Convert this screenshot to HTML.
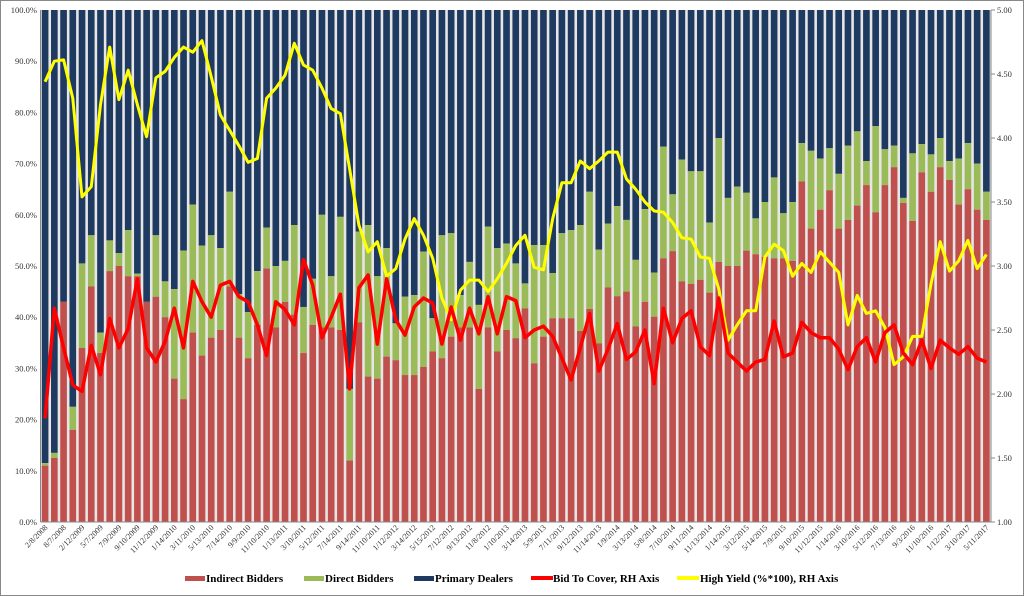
<!DOCTYPE html>
<html><head><meta charset="utf-8"><style>
html,body{margin:0;padding:0;background:#fff;width:1024px;height:596px;overflow:hidden}
svg{display:block;font-family:"Liberation Serif",serif}
</style></head><body>
<svg id="chart" width="1024" height="596" viewBox="0 0 1024 596">
<rect x="0.5" y="0.5" width="1023" height="595" fill="#fff" stroke="#888"/>
<g id="bars"></g>
<g id="lines"></g>
<g id="axes"></g>
<g id="legend" font-weight="bold" font-size="11" fill="#000">
  <rect x="185" y="576" width="20" height="5" fill="#c0504d"/>
  <text x="206" y="582">Indirect Bidders</text>
  <rect x="304" y="576" width="20" height="5" fill="#9bbb59"/>
  <text x="325" y="582">Direct Bidders</text>
  <rect x="414" y="576" width="20" height="5" fill="#1f3a60"/>
  <text x="435" y="582">Primary Dealers</text>
  <rect x="531" y="576" width="22" height="4" fill="#ff0000"/>
  <text x="553" y="582">Bid To Cover, RH Axis</text>
  <rect x="677" y="576" width="22" height="4" fill="#ffff00"/>
  <text x="700" y="582">High Yield (%*100), RH Axis</text>
</g>
</svg>
<script>
const indirect = [11,12.5,43,18,34,46,33,49,50,48,48,43,44,40,28,24,37,32.5,36,37.5,46,36,32,38.5,49.5,
38,43,40.5,33,38.5,38,38,37.5,12,
39,28.4,28,32.3,31.6,28.7,28.7,30.3,33.3,32,36.2,38,38,26,38,33.3,37.5,
35.9,41.7,31,36.2,39.8,39.8,39.8,37.3,41.6,34.9,45.8,44.1,45,38.2,43,40.1,51.5,52.9,
47,46.5,47.3,44.8,50.8,50,50,53,52.3,51.8,51.5,51.5,51,66.5,57.3,61,64.8,57.3,59,61.8,65.8,60.5,65.8,69.3,62.3,58.8,68.3,64.5,69.3,66.8,62,65,61,59];
const indirectPlusDirect = [11.5,13.5,43,22.5,50.5,56,37,55,52.5,57,48.5,43,56,47,45.5,53,62,54,56,53.5,64.5,44.5,41,49,57.5,
50,51,58,42,47.5,60,48,59.6,26,
56.7,58,48,53.5,38.8,44,44.3,52.8,39.8,56,56.4,44.3,50.8,42.4,57.7,53.5,54.4,
50.5,46.6,54.1,54.1,48.6,56.4,57,58,64.5,53.2,58.3,61.7,59,51.2,61.1,48.7,73.3,64,
70.8,68.5,68.5,58.5,75,63.3,65.5,64.3,59.3,62.5,67.3,60.3,62.5,74,72.5,71,73,68,73.5,76.3,70.5,77.3,72.8,73.5,63.3,72,73.8,71.8,75,70.5,71,74,70,64.5];
const bidToCover = [1.81,2.67,2.36,2.07,2.02,2.38,2.15,2.59,2.36,2.51,2.90,2.36,2.25,2.41,2.67,2.36,2.88,2.72,2.60,2.85,2.88,2.76,2.72,2.54,2.30,
2.72,2.66,2.54,3.05,2.85,2.44,2.60,2.78,2.04,2.83,2.93,2.39,2.90,2.58,2.46,2.68,2.75,2.71,2.39,2.68,2.42,2.67,2.47,2.76,2.47,2.76,
2.73,2.44,2.50,2.53,2.45,2.28,2.11,2.36,2.63,2.18,2.35,2.55,2.27,2.33,2.50,2.08,2.67,2.40,2.59,2.65,2.37,2.30,2.75,2.32,2.25,2.18,
2.25,2.27,2.57,2.29,2.32,2.56,2.48,2.44,2.44,2.35,2.19,2.37,2.44,2.25,2.48,2.54,2.32,2.23,2.42,2.20,2.42,2.36,2.31,2.37,2.28,2.25];
const highYield = [4.44,4.60,4.61,4.31,3.54,3.62,4.26,4.71,4.30,4.53,4.26,4.01,4.47,4.52,4.63,4.71,4.67,4.76,4.48,4.18,4.06,3.94,3.81,3.84,4.31,4.39,
4.49,4.74,4.57,4.53,4.39,4.23,4.19,3.76,3.32,3.11,3.19,2.92,2.98,3.21,3.37,3.24,3.06,2.75,2.58,2.81,2.89,2.89,2.80,2.90,3.02,
3.16,3.24,2.99,2.97,3.37,3.65,3.65,3.82,3.76,3.82,3.89,3.89,3.68,3.60,3.50,3.43,3.42,3.34,3.22,3.21,3.07,3.06,2.82,2.42,2.54,2.65,
2.65,3.07,3.17,3.12,2.92,3.02,2.95,3.11,3.03,2.95,2.54,2.77,2.63,2.65,2.52,2.23,2.29,2.45,2.45,2.86,3.19,2.96,3.04,3.20,2.98,3.09];
const dateLabels = ["2/8/2008","8/7/2008","2/12/2009","5/7/2009","7/9/2009","9/10/2009","11/12/2009","1/14/2010","3/11/2010","5/13/2010","7/14/2010","9/9/2010","11/10/2010","1/13/2011","3/10/2011","5/12/2011","7/14/2011","9/14/2011","11/10/2011","1/12/2012","3/14/2012","5/15/2012","7/12/2012","9/13/2012","11/8/2012","1/10/2013","3/14/2013","5/9/2013","7/11/2013","9/12/2013","11/14/2013","1/9/2014","3/13/2014","5/8/2014","7/10/2014","9/11/2014","11/13/2014","1/14/2015","3/12/2015","5/14/2015","7/9/2015","9/10/2015","11/12/2015","1/14/2016","3/10/2016","5/12/2016","7/13/2016","9/3/2016","11/10/2016","1/12/2017","3/10/2017","5/11/2017"];
const leftTicks = ["0.0%","10.0%","20.0%","30.0%","40.0%","50.0%","60.0%","70.0%","80.0%","90.0%","100.0%"];
const rightTicks = ["1.00","1.50","2.00","2.50","3.00","3.50","4.00","4.50","5.00"];

const NS="http://www.w3.org/2000/svg";
const X0=40.5, X1=991, YT=10, YB=522;
const n=indirect.length;
const pitch=(X1-X0)/n;
function xc(i){return X0+pitch*(i+0.5);}
function yL(p){return YB-(p/100)*(YB-YT);}
function yR(v){return YB-((v-1)/4)*(YB-YT);}
function mk(tag,attrs,parent){const e=document.createElementNS(NS,tag);for(const k in attrs)e.setAttribute(k,attrs[k]);parent.appendChild(e);return e;}

const bars=document.getElementById('bars');
mk('rect',{x:X0,y:YT,width:X1-X0,height:YB-YT,fill:'#e6e6e6'},bars);
const bw=pitch*0.72;
for(let i=0;i<n;i++){
  const x=xc(i)-bw/2;
  const d=mk('rect',{x:x,y:yL(100),width:bw,height:yL(indirectPlusDirect[i])-yL(100),fill:'#1f3a60'},bars);
  
  
  const g=mk('rect',{x:x,y:yL(indirectPlusDirect[i]),width:bw,height:yL(indirect[i])-yL(indirectPlusDirect[i]),fill:'#9bbb59'},bars);
  
  
  const r=mk('rect',{x:x,y:yL(indirect[i]),width:bw,height:YB-yL(indirect[i]),fill:'#c0504d'},bars);
  
  
}
const lines=document.getElementById('lines');
function pts(arr){return arr.map((v,i)=>xc(i).toFixed(1)+','+yR(v).toFixed(1)).join(' ');}
const yl=mk('polyline',{points:pts(highYield),fill:'none',stroke:'#ffff00','stroke-width':3,'stroke-linejoin':'round'},lines);


const rl=mk('polyline',{points:pts(bidToCover),fill:'none',stroke:'#ff0000','stroke-width':3.5,'stroke-linejoin':'round'},lines);



const axes=document.getElementById('axes');
mk('line',{x1:X0,y1:YT,x2:X0,y2:YB,stroke:'#888'},axes);
mk('line',{x1:X1,y1:YT,x2:X1,y2:YB,stroke:'#888'},axes);
mk('line',{x1:X0,y1:YB,x2:X1,y2:YB,stroke:'#888'},axes);
leftTicks.forEach((t,k)=>{
  const el=mk('text',{x:37,y:yL(k*10)+3,'text-anchor':'end','font-size':8.5,fill:'#333'},axes);
  el.textContent=t;
  
  
});
rightTicks.forEach((t,k)=>{
  const v=1+k*0.5;
  mk('line',{x1:X1,y1:yR(v),x2:X1+4,y2:yR(v),stroke:'#888'},axes);
  const el=mk('text',{x:997,y:yR(v)+3,'font-size':8.5,fill:'#333'},axes);
  el.textContent=t;
  
  
});
dateLabels.forEach((t,k)=>{
  const x=xc(k*2)+3, y=528;
  const el=mk('text',{x:x,y:y,'text-anchor':'end','font-size':8,fill:'#333',transform:`rotate(-45 ${x} ${y})`},axes);
  el.textContent=t;
  
  
});
</script>
</body></html>
